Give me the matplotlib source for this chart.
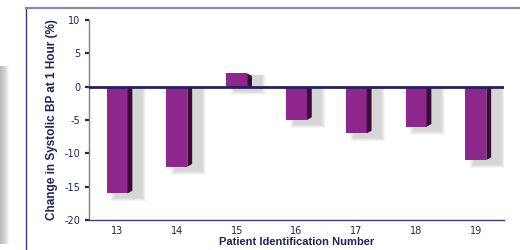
import matplotlib
matplotlib.use("Agg")
import matplotlib.pyplot as plt
from matplotlib.patches import Polygon, Rectangle
import numpy as np

patients = [13, 14, 15, 16, 17, 18, 19]
change = [-16, -12, 2, -5, -7, -6, -11]
yticks = [10, 5, 0, -5, -10, -15, -20]

navy = "#23215e"
front = "#8e278c"
side = "#3b0a3a"

fig = plt.figure(figsize=(5.2, 2.5), dpi=100)
fig.patch.set_facecolor("white")

# outer frame lines
fig.add_artist(plt.Line2D([26/520, 26/520], [0, 1 - 8/250], color="#3c3a78", lw=1.0))
fig.add_artist(plt.Line2D([26/520, 1], [1 - 8/250, 1 - 8/250], color="#8a88a8", lw=1.6))
# gray shaded strip on the far left
for i in range(10):
    fig.add_artist(Rectangle((0, 6/250), (9 - i)/520, 1 - 66/250 - 6/250,
                             transform=fig.transFigure, color="#909090",
                             alpha=0.09, lw=0))

ax = fig.add_axes([89/520, 30/250, 415/520, 200/250])
ax.set_xlim(12.53, 19.47)
ax.set_ylim(-20, 10)

width = 0.35
dx = 0.08
dy = 0.4

for x, v in zip(patients, change):
    x0 = x - width / 2
    x1 = x + width / 2
    # soft shadow
    for k in range(6):
        s = 0.03 + k * 0.025
        ax.add_patch(Rectangle((x0 + 0.05 - s/2 + 0.1, min(0, v) - 0.6 - s*4),
                               width + dx + s, abs(v) + 0.4 + s*4,
                               color="#808080", alpha=0.06, lw=0, zorder=1))
    ax.bar(x, v, width=width, color=front, edgecolor="none", zorder=3)
    if v < 0:
        poly = [(x1, 0), (x1 + dx, 0), (x1 + dx, v + dy), (x1, v)]
    else:
        poly = [(x1, 0), (x1 + dx, 0), (x1 + dx, v - dy), (x1, v)]
    ax.add_patch(Polygon(poly, closed=True, color=side, lw=0, zorder=3))

ax.axhline(0, color=navy, lw=2.0, zorder=4)

ax.set_xticks(patients)
ax.set_xticklabels([str(p) for p in patients])
ax.set_yticks(yticks)
ax.set_yticklabels([str(t) for t in yticks])
ax.tick_params(axis="x", length=0, pad=4, labelsize=7, labelcolor=navy)
ax.tick_params(axis="y", length=3, width=1.6, color=navy, direction="out",
               pad=3, labelsize=7, labelcolor=navy)

for sp in ["top", "right"]:
    ax.spines[sp].set_visible(False)
ax.spines["left"].set_color("#7e7ca0")
ax.spines["left"].set_linewidth(1.0)
ax.spines["bottom"].set_color("#3c3a78")
ax.spines["bottom"].set_linewidth(1.0)

ax.set_ylabel("Change in Systolic BP at 1 Hour (%)", fontsize=8.5,
              fontweight="bold", color=navy, family="Liberation Sans")
ax.yaxis.set_label_coords(-0.075, 0.5)
ax.set_xlabel("Patient Identification Number", fontsize=8,
              fontweight="bold", color=navy, family="Liberation Sans")
ax.xaxis.set_label_coords(0.5, -0.085)

fig.savefig("out.png", dpi=100, facecolor="white")
